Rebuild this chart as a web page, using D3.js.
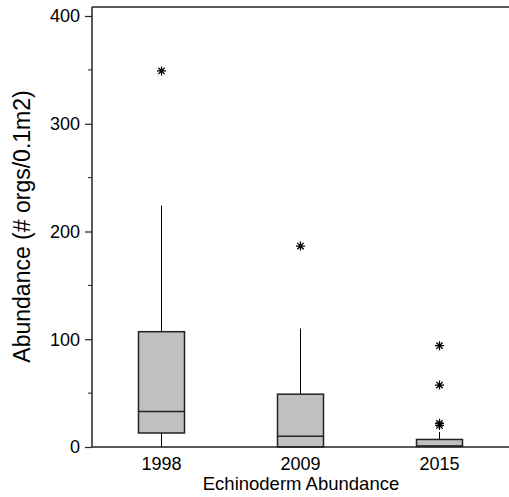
<!DOCTYPE html>
<html>
<head>
<meta charset="utf-8">
<script src="https://cdn.jsdelivr.net/npm/d3@7"></script>
<style>
  body { margin: 0; background: #fff; }
  text { font-family: "Liberation Sans", Arial, sans-serif; fill: #000; }
</style>
</head>
<body>
<div id="chart"></div>
<script>
// values
const years = ['1998', '2009', '2015'];
const q1 = [13, 0, 0.5];
const medians = [33, 10, 1];
const q3 = [107, 49, 7];
const whiskerLow = [0, 0, 0];
const whiskerHigh = [224, 110, 14];
const outliers = [[349], [186.5], [94, 57.5, 22, 20]];
const yTicks = [0, 100, 200, 300, 400];
const yMinorTicks = [50, 150, 250, 350];

const width = 509, height = 497;
const margin = {top: 7, right: 0, bottom: 50, left: 92};
const yMax = 408.3;

const svg = d3.select('#chart').append('svg')
    .attr('width', width)
    .attr('height', height);

const x = d3.scaleBand()
    .domain(years)
    .range([margin.left, width - margin.right]);

const y = d3.scaleLinear()
    .domain([0, 400])
    .range([height - margin.bottom, 16]);

const boxWidth = 46;

// frame: left axis, top line, bottom axis
svg.append('line')
    .attr('x1', margin.left).attr('x2', width)
    .attr('y1', y(yMax)).attr('y2', y(yMax))
    .attr('stroke', '#222').attr('stroke-width', 1.5);

const yAxis = svg.append('g')
    .attr('transform', `translate(${margin.left},0)`)
    .call(d3.axisLeft(y).tickValues(yTicks).tickSize(7).tickPadding(5).tickFormat(d3.format('d')));
yAxis.select('.domain').attr('d', `M0,${y(yMax)}V${y(0)}`).attr('stroke', '#222').attr('stroke-width', 1.5);
yAxis.selectAll('.tick line').attr('stroke', '#222').attr('stroke-width', 1.2);
yAxis.selectAll('.tick text').style('font-size', '18px').attr('fill', '#000');

svg.append('g')
    .selectAll('line')
    .data(yMinorTicks)
    .join('line')
    .attr('x1', margin.left - 4).attr('x2', margin.left)
    .attr('y1', d => y(d)).attr('y2', d => y(d))
    .attr('stroke', '#222').attr('stroke-width', 1);

const boxes = svg.append('g')
    .selectAll('g')
    .data(years.map((yr, i) => ({yr, i})))
    .join('g')
    .attr('transform', d => `translate(${x(d.yr) + x.bandwidth() / 2},0)`);

// whiskers
boxes.append('line')
    .attr('x1', 0).attr('x2', 0)
    .attr('y1', d => y(q3[d.i])).attr('y2', d => y(whiskerHigh[d.i]))
    .attr('stroke', '#000').attr('stroke-width', 1);
boxes.append('line')
    .attr('x1', 0).attr('x2', 0)
    .attr('y1', d => y(q1[d.i])).attr('y2', d => y(whiskerLow[d.i]))
    .attr('stroke', '#000').attr('stroke-width', 1);

boxes.append('rect')
    .attr('x', -boxWidth / 2)
    .attr('width', boxWidth)
    .attr('y', d => y(q3[d.i]))
    .attr('height', d => y(q1[d.i]) - y(q3[d.i]))
    .attr('fill', '#c0c0c0')
    .attr('stroke', '#222')
    .attr('stroke-width', 1.5);

boxes.append('line')
    .attr('x1', -boxWidth / 2).attr('x2', boxWidth / 2)
    .attr('y1', d => y(medians[d.i])).attr('y2', d => y(medians[d.i]))
    .attr('stroke', '#222').attr('stroke-width', 1.5);

// asterisk outliers
const star = 'M-4.5,0H4.5M0,-4.5V4.5M-3.2,-3.2L3.2,3.2M-3.2,3.2L3.2,-3.2';
boxes.selectAll('path.outlier')
    .data(d => outliers[d.i])
    .join('path')
    .attr('class', 'outlier')
    .attr('transform', v => `translate(0,${y(v)})`)
    .attr('d', star)
    .attr('stroke', '#000')
    .attr('stroke-width', 1.3)
    .attr('fill', 'none');

// bottom axis (drawn last so it sits over the boxes)
const xAxis = svg.append('g')
    .attr('transform', `translate(0,${y(0)})`)
    .call(d3.axisBottom(x).tickSize(0).tickPadding(10));
xAxis.select('.domain').attr('d', `M${margin.left},0H${width}`).attr('stroke', '#222').attr('stroke-width', 1.5);
xAxis.selectAll('.tick text').style('font-size', '18px').attr('fill', '#000');

svg.append('text')
    .attr('x', 301)
    .attr('y', 490)
    .attr('text-anchor', 'middle')
    .style('font-size', '18.5px')
    .text('Echinoderm Abundance');

svg.append('text')
    .attr('transform', `translate(30,${(88 + 365) / 2}) rotate(-90)`)
    .attr('text-anchor', 'middle')
    .style('font-size', '23px')
    .text('Abundance (# orgs/0.1m2)');
</script>
</body>
</html>
